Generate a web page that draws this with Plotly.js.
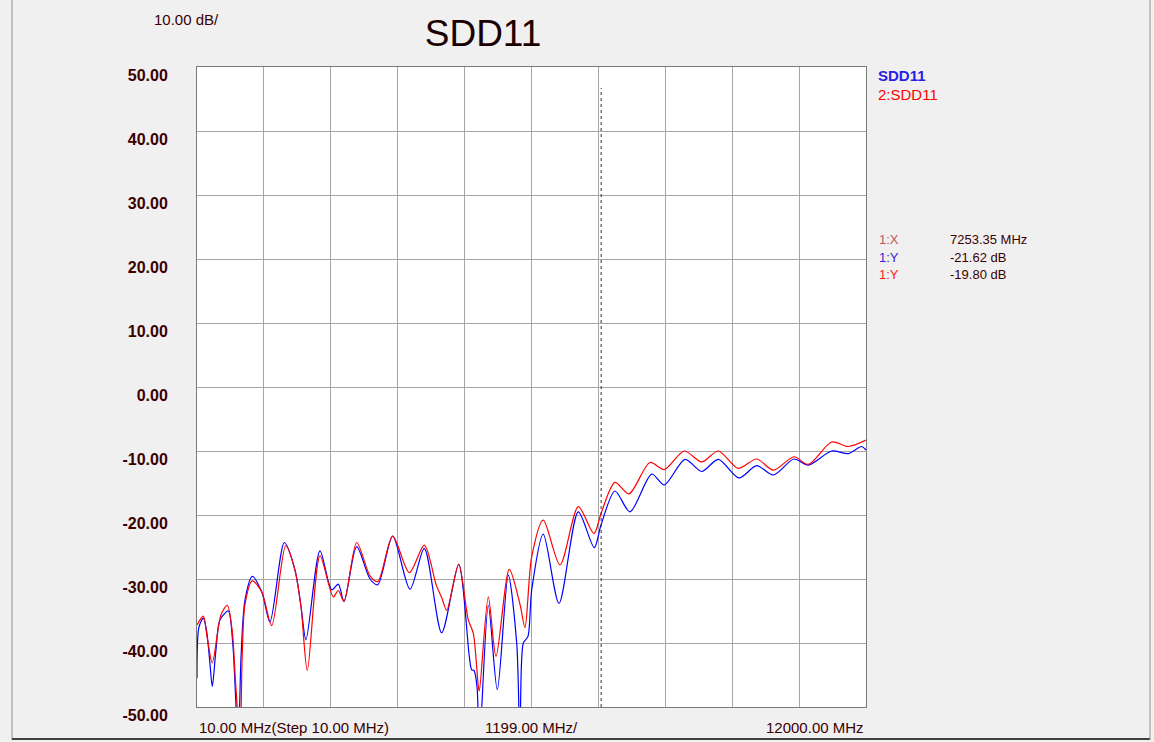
<!DOCTYPE html>
<html>
<head>
<meta charset="utf-8">
<script src="https://cdn.plot.ly/plotly-3.0.1.min.js"></script>
<style>html,body{margin:0;padding:0;background:#f0f0f0;}#chart{width:1154px;height:742px;}</style>
</head>
<body>
<div id="chart"></div>
<script>
// Frequency (MHz) and SDD11 (dB)
const blueX = [10, 45, 123, 180, 240, 284, 340, 400, 440, 571, 650, 710, 750, 800, 870, 1001, 1170, 1318, 1575, 1766, 1874, 1963, 2214, 2424, 2542, 2645, 2872, 3111, 3249, 3517, 3827, 4084, 4395, 4700, 4890, 4933, 4975, 5030, 5070, 5231, 5392, 5589, 5740, 5800, 5858, 5940, 6009, 6216, 6498, 6844, 7130, 7250, 7501, 7770, 8159, 8385, 8756, 9055, 9353, 9724, 10041, 10339, 10710, 10966, 11386, 11683, 11923, 12000];
const blueY = [-45.5, -37.5, -36.1, -38.0, -43.0, -46.8, -42.0, -37.0, -36.1, -35.0, -40.0, -50.0, -56.0, -42.0, -33.3, -29.6, -32.0, -36.7, -24.3, -28.6, -34.3, -39.5, -25.6, -31.7, -30.8, -33.5, -24.95, -30.0, -30.9, -23.3, -31.6, -25.2, -38.4, -27.7, -42.1, -44.2, -44.3, -47.0, -56.0, -34.1, -47.3, -29.4, -40.0, -56.0, -40.0, -39.0, -31.7, -23.0, -33.8, -19.5, -25.1, -21.6, -16.25, -19.5, -13.6, -15.3, -11.3, -13.2, -11.3, -14.2, -12.3, -13.75, -11.25, -12.2, -10.0, -10.4, -9.3, -9.85];

const redX = [10, 123, 190, 284, 440, 553, 640, 700, 781, 820, 870, 1001, 1170, 1349, 1600, 1766, 1874, 1987, 2214, 2453, 2542, 2645, 2872, 3111, 3249, 3517, 3815, 4084, 4300, 4400, 4485, 4700, 4872, 4962, 5052, 5070, 5231, 5369, 5607, 5800, 5888, 6009, 6216, 6516, 6844, 7125, 7250, 7501, 7752, 8128, 8385, 8743, 9055, 9353, 9711, 10041, 10339, 10710, 10966, 11386, 11683, 12000];
const redY = [-37.2, -35.8, -39.0, -43.1, -35.6, -34.1, -38.0, -46.0, -55.0, -42.0, -34.0, -30.3, -32.0, -37.3, -24.8, -28.6, -34.3, -44.3, -26.4, -32.8, -31.8, -33.5, -24.3, -29.5, -30.4, -23.3, -29.0, -24.7, -31.0, -33.0, -34.9, -27.7, -36.4, -38.5, -46.8, -47.5, -32.8, -42.1, -28.5, -34.0, -37.6, -26.5, -20.8, -27.8, -18.7, -22.9, -19.8, -14.9, -16.7, -11.8, -12.9, -10.0, -11.7, -10.0, -12.7, -11.25, -13.0, -10.9, -12.1, -8.6, -9.3, -8.3];

const xStart = 10, xStop = 12000, xStep = 1199;
const xGrid = [];
for (let i = 0; i <= 10; i++) xGrid.push(xStart + i * xStep);
const yTicks = [50, 40, 30, 20, 10, 0, -10, -20, -30, -40, -50];
const markerX = 7253.35;
const legendNames = ['SDD11', '2:SDD11'];
const markerLabels = ['1:X', '1:Y', '1:Y'];
const markerValues = ['7253.35 MHz', '-21.62 dB', '-19.80 dB'];
const xLabels = ['10.00 MHz(Step 10.00 MHz)', '1199.00 MHz/', '12000.00 MHz'];

const L = 197, R = 866, T = 67, B = 707;
const px = v => (v - L) / (R - L);
const py = v => (B - v) / (B - T);
const FONT = 'Arial, "Liberation Sans", sans-serif';
const TXT = '#3a0000';

const traces = [
  {x: blueX, y: blueY, mode: 'lines', line: {color: '#0000ff', width: 1.2, shape: 'spline', smoothing: 0.8}, name: legendNames[0], hoverinfo: 'skip'},
  {x: redX, y: redY, mode: 'lines', line: {color: '#ff0000', width: 1.2, shape: 'spline', smoothing: 0.8}, name: legendNames[1], hoverinfo: 'skip'}
];

const ann = [];
ann.push({xref: 'paper', yref: 'paper', x: px(152), y: py(20), xanchor: 'left', yanchor: 'middle', text: '10.00 dB/', showarrow: false, font: {family: FONT, size: 15, color: TXT}});
ann.push({xref: 'x', yref: 'paper', x: xGrid[0], y: py(727), xanchor: 'left', yanchor: 'middle', text: xLabels[0], showarrow: false, font: {family: FONT, size: 15, color: TXT}});
ann.push({xref: 'x', yref: 'paper', x: xGrid[5], y: py(727), xanchor: 'center', yanchor: 'middle', text: xLabels[1], showarrow: false, font: {family: FONT, size: 15, color: TXT}});
ann.push({xref: 'x', yref: 'paper', x: xGrid[10], y: py(727), xanchor: 'right', yanchor: 'middle', text: xLabels[2], showarrow: false, font: {family: FONT, size: 15, color: TXT}});
ann.push({xref: 'paper', yref: 'paper', x: px(876), y: py(76), xanchor: 'left', yanchor: 'middle', text: '<b>' + legendNames[0] + '</b>', showarrow: false, font: {family: FONT, size: 15, color: '#2a1ee6'}});
ann.push({xref: 'paper', yref: 'paper', x: px(876), y: py(95), xanchor: 'left', yanchor: 'middle', text: legendNames[1], showarrow: false, font: {family: FONT, size: 15, color: '#ff0000'}});
const mkColors = ['#c05858', '#3a1ed0', '#ff1a1a'];
const mkY = [240, 257, 274];
for (let i = 0; i < 3; i++) {
  ann.push({xref: 'paper', yref: 'paper', x: px(877), y: py(mkY[i]), xanchor: 'left', yanchor: 'middle', text: markerLabels[i], showarrow: false, font: {family: FONT, size: 13, color: mkColors[i]}});
  ann.push({xref: 'paper', yref: 'paper', x: px(948), y: py(mkY[i]), xanchor: 'left', yanchor: 'middle', text: markerValues[i], showarrow: false, font: {family: FONT, size: 13, color: TXT}});
}

const layout = {
  width: 1154, height: 742,
  paper_bgcolor: '#f0f0f0', plot_bgcolor: '#ffffff',
  margin: {l: L, r: 1154 - R, t: T, b: 742 - B, pad: 0},
  showlegend: false,
  title: {text: 'SDD11', font: {family: FONT, size: 37, color: '#1a0000'}, xref: 'paper', x: px(483), xanchor: 'center', yref: 'container', y: 1 - 33 / 742, yanchor: 'middle'},
  xaxis: {range: [xStart, xStop], tickvals: xGrid, showticklabels: false, ticks: '', showgrid: true, gridcolor: '#a6a6a6', gridwidth: 1, zeroline: false, showline: true, mirror: true, linecolor: '#7a7a7a', linewidth: 1},
  yaxis: {range: [-50, 50], tickvals: yTicks, ticktext: yTicks.map(v => '<b>' + v.toFixed(2) + '</b>'), ticks: '', ticklabelstandoff: 25, ticklabelshift: 8, tickfont: {family: FONT, size: 16, color: TXT}, showgrid: true, gridcolor: '#a6a6a6', gridwidth: 1, zeroline: false, showline: true, mirror: true, linecolor: '#7a7a7a', linewidth: 1},
  annotations: ann,
  shapes: [
    {type: 'line', xref: 'x', yref: 'y', x0: markerX, x1: markerX, y0: -50, y1: 46.7, line: {color: '#303030', width: 1, dash: 'dot'}},
    {type: 'line', xref: 'paper', yref: 'paper', x0: px(12), x1: px(12), y0: py(0), y1: py(740), line: {color: '#909090', width: 1}},
    {type: 'line', xref: 'paper', yref: 'paper', x0: px(12), x1: px(1150), y0: py(739), y1: py(739), line: {color: '#404040', width: 2}},
    {type: 'line', xref: 'paper', yref: 'paper', x0: px(1150), x1: px(1150), y0: py(0), y1: py(740), line: {color: '#909090', width: 1}}
  ]
};

Plotly.newPlot('chart', traces, layout, {displayModeBar: false, staticPlot: true});
</script>
</body>
</html>
